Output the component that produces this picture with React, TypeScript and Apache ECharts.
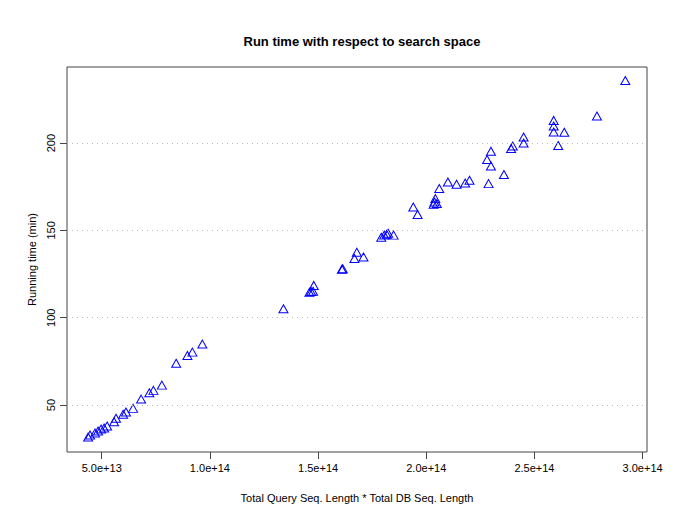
import React, { useEffect, useRef } from "react";
import * as echarts from "echarts";

// x in units of 1e13 (Total Query Seq. Length * Total DB Seq. Length), y in minutes
const xVals: number[] = [
  4.37, 4.46, 4.69, 4.83, 4.97, 5.11, 5.25, 5.57, 5.66, 5.99,
  6.12, 6.45, 6.82, 7.2, 7.39, 7.78, 8.44, 8.96, 9.19, 9.65,
  13.4, 14.6, 14.68, 14.77, 14.8, 16.1, 16.14, 16.68, 16.79, 17.1,
  17.92, 18.06, 18.17, 18.24, 18.49, 19.4, 19.6, 20.34, 20.38, 20.49,
  20.42, 20.6, 21.0, 21.4, 21.8, 22.0, 22.81, 22.99, 22.99, 22.88,
  23.59, 23.92, 24.0, 24.5, 24.5, 25.89, 25.89, 25.89, 26.38, 26.1,
  27.89, 29.2,
];
const yVals: number[] = [
  31.7, 32.8, 34.0, 35.1, 36.3, 36.8, 38.0, 40.4, 42.4, 44.7,
  46.0, 48.1, 53.4, 57.0, 58.4, 61.4, 73.9, 78.4, 80.3, 84.9,
  105.1, 114.6, 115.0, 115.2, 118.5, 127.8, 128.1, 133.9, 137.5, 134.8,
  146.1, 147.3, 147.8, 148.4, 147.3, 163.4, 159.1, 165.0, 166.3, 165.4,
  168.2, 174.0, 177.7, 176.4, 177.2, 178.7, 190.6, 195.3, 186.9, 176.8,
  182.0, 196.9, 198.3, 203.5, 200.1, 213.0, 209.8, 206.4, 206.2, 198.6,
  215.5, 235.9,
];
const xTicks: number[] = [5e13, 1e14, 1.5e14, 2e14, 2.5e14, 3e14];
const yTicks: number[] = [50, 100, 150, 200];

const TITLE = "Run time with respect to search space";
const X_NAME = "Total Query Seq. Length * Total DB Seq. Length";
const Y_NAME = "Running time (min)";

export default function App() {
  const ref = useRef<HTMLDivElement>(null);
  useEffect(() => {
    if (!ref.current) return;
    const chart = echarts.init(ref.current, undefined, { renderer: "svg" });
    const data = xVals.map((x, i) => [x * 1e13, yVals[i]]);
    const font = "'Liberation Sans', Helvetica, Arial, sans-serif";
    const axisColor = "#444";
    chart.setOption({
      animation: false,
      backgroundColor: "#fff",
      textStyle: { fontFamily: font },
      title: {
        text: TITLE,
        left: 357,
        top: 30,
        textAlign: "center",
        textStyle: { fontSize: 13, fontWeight: "bold", color: "#000", fontFamily: font },
      },
      grid: {
        left: 67,
        right: 38,
        top: 67,
        bottom: 65,
        show: true,
        borderColor: axisColor,
        borderWidth: 1,
        backgroundColor: "transparent",
      },
      xAxis: {
        type: "value",
        min: 3.395e13,
        max: 3.0203e14,
        name: X_NAME,
        nameLocation: "middle",
        nameGap: 40,
        nameTextStyle: { fontSize: 11, color: "#000", fontFamily: font },
        axisLine: { show: false },
        splitLine: { show: false },
        axisTick: {
          show: true,
          inside: false,
          length: 7,
          customValues: xTicks,
          lineStyle: { color: axisColor },
        },
        axisLabel: {
          customValues: xTicks,
          fontSize: 11,
          color: "#000",
          margin: 10,
          fontFamily: font,
          formatter: (v: number) => v.toExponential(1),
        },
      },
      yAxis: {
        type: "value",
        min: 23.1,
        max: 243.6,
        name: Y_NAME,
        nameLocation: "middle",
        nameGap: 30,
        nameRotate: 90,
        nameTextStyle: { fontSize: 11, color: "#000", fontFamily: font },
        axisLine: { show: false },
        splitLine: { show: false },
        axisTick: {
          show: true,
          inside: false,
          length: 7,
          customValues: yTicks,
          lineStyle: { color: axisColor },
        },
        axisLabel: {
          customValues: yTicks,
          rotate: 90,
          fontSize: 11,
          color: "#000",
          margin: 11,
          fontFamily: font,
        },
      },
      series: [
        {
          type: "scatter",
          data,
          symbol: "triangle",
          symbolSize: [9, 8],
          itemStyle: {
            color: "rgba(0,0,0,0)",
            borderColor: "#0000ff",
            borderWidth: 1,
            opacity: 1,
          },
          markLine: {
            silent: true,
            symbol: "none",
            label: { show: false },
            lineStyle: { color: "#bbb", type: [1, 4], width: 1 },
            data: yTicks.map((v) => ({ yAxis: v })),
          },
          z: 3,
        },
      ],
    });
    return () => chart.dispose();
  }, []);
  return (
    <div
      ref={ref}
      style={{ position: "fixed", left: 0, top: 0, width: 685, height: 517 }}
    />
  );
}
